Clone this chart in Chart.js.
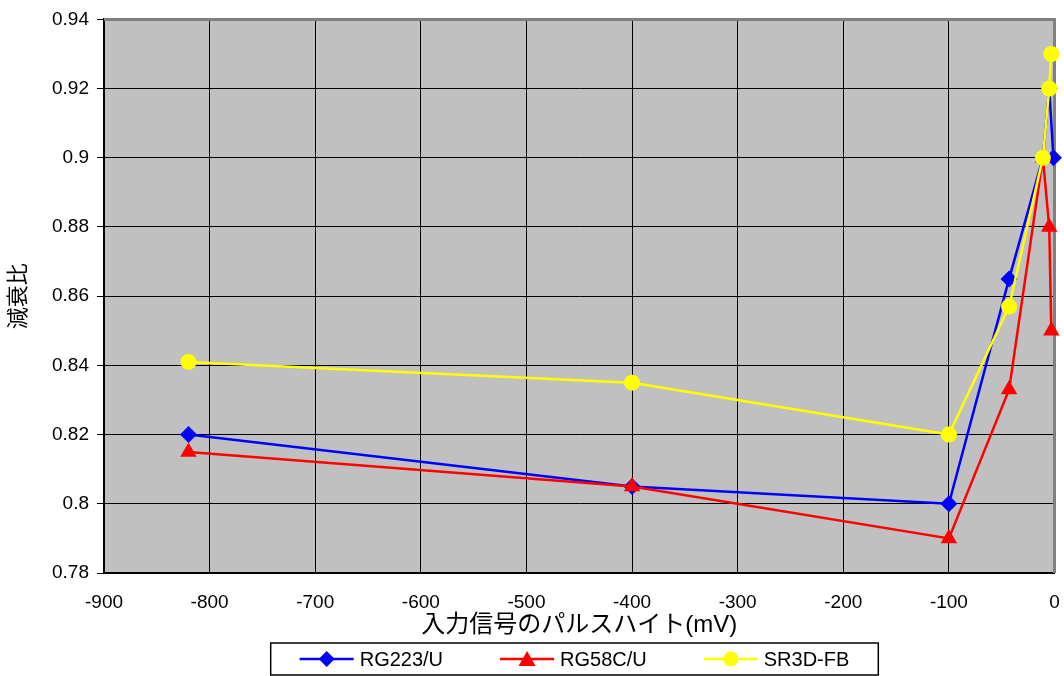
<!DOCTYPE html>
<html>
<head>
<meta charset="utf-8">
<script src="https://cdn.jsdelivr.net/npm/chart.js@4.4.0/dist/chart.umd.min.js"></script>
<style>
  html, body { margin: 0; padding: 0; background: #fff; }
</style>
</head>
<body>
<canvas id="myChart" width="1064" height="676"></canvas>
<script>
// データ
const xRG223 = [-820, -400, -100, -43, -11, -5, -1];
const yRG223 = [0.82, 0.805, 0.80, 0.865, 0.90, 0.92, 0.90];
const xRG58 = [-820, -400, -100, -43, -11, -5, -3];
const yRG58 = [0.815, 0.805, 0.79, 0.833, 0.90, 0.88, 0.85];
const xSR3D = [-820, -400, -100, -43, -11, -5, -3];
const ySR3D = [0.841, 0.835, 0.82, 0.857, 0.90, 0.92, 0.93];
const seriesNames = ["RG223/U", "RG58C/U", "SR3D-FB"];
const xTitle = "入力信号のパルスハイト(mV)";
const yTitle = "減衰比";

const FONT = "'Liberation Sans', Arial, 'Noto Sans CJK JP', sans-serif";

const toPoints = (xs, ys) => xs.map((x, i) => ({ x: x, y: ys[i] }));

function drawMarker(g, style, x, y, color) {
  g.fillStyle = color;
  g.beginPath();
  if (style === "rectRot") {
    g.moveTo(x, y - 8); g.lineTo(x + 8, y); g.lineTo(x, y + 8); g.lineTo(x - 8, y);
  } else if (style === "triangle") {
    g.moveTo(x, y - 8); g.lineTo(x + 8.5, y + 7); g.lineTo(x - 8.5, y + 7);
  } else {
    g.arc(x, y, 7.5, 0, Math.PI * 2);
  }
  g.closePath();
  g.fill();
}

// 背景・枠・凡例
const plotBg = {
  id: "plotBg",
  beforeDraw(chart) {
    const { ctx, chartArea: a } = chart;
    ctx.save();
    ctx.fillStyle = "#C0C0C0";
    ctx.fillRect(a.left, a.top, a.right - a.left, a.bottom - a.top);
    ctx.restore();
  },
  beforeDatasetsDraw(chart) {
    const { ctx, chartArea: a } = chart;
    ctx.save();
    ctx.strokeStyle = "#808080";
    ctx.lineWidth = 3;
    ctx.beginPath();
    ctx.moveTo(a.left, a.top);
    ctx.lineTo(a.right, a.top);
    ctx.lineTo(a.right, a.bottom);
    ctx.stroke();
    ctx.restore();
  },
  afterDraw(chart) {
    const ctx = chart.ctx;
    const sets = chart.data.datasets;
    ctx.save();
    ctx.font = "20px " + FONT;
    const lineLen = 54, gapText = 6, gapItem = 57, pad = 29;
    const widths = sets.map(ds => lineLen + gapText + ctx.measureText(ds.label).width);
    const total = widths.reduce((s, w) => s + w, 0) + gapItem * (sets.length - 1);
    const cx = 574.5;
    let x = cx - total / 2;
    const top = 643, h = 32, cy = top + h / 2;
    ctx.fillStyle = "#fff";
    ctx.fillRect(x - pad, top, total + pad * 2, h);
    ctx.strokeStyle = "#000";
    ctx.lineWidth = 1.5;
    ctx.strokeRect(x - pad, top, total + pad * 2, h);
    sets.forEach((ds, i) => {
      ctx.strokeStyle = ds.borderColor;
      ctx.lineWidth = 2.5;
      ctx.beginPath();
      ctx.moveTo(x, cy);
      ctx.lineTo(x + lineLen, cy);
      ctx.stroke();
      drawMarker(ctx, ds.pointStyle, x + lineLen / 2, cy, ds.backgroundColor);
      ctx.fillStyle = "#000";
      ctx.textBaseline = "middle";
      ctx.textAlign = "left";
      ctx.fillText(ds.label, x + lineLen + gapText, cy + 1);
      x += widths[i] + gapItem;
    });
    ctx.restore();
  }
};

const data = {
  datasets: [
    {
      label: seriesNames[0],
      data: toPoints(xRG223, yRG223),
      borderColor: "#0000FF",
      backgroundColor: "#0000FF",
      pointStyle: "rectRot",
      pointRadius: 8.5,
      order: 3,
    },
    {
      label: seriesNames[1],
      data: toPoints(xRG58, yRG58),
      borderColor: "#FF0000",
      backgroundColor: "#FF0000",
      pointStyle: "triangle",
      pointRadius: 9.5,
      order: 2,
    },
    {
      label: seriesNames[2],
      data: toPoints(xSR3D, ySR3D),
      borderColor: "#FFFF00",
      backgroundColor: "#FFFF00",
      pointStyle: "circle",
      pointRadius: 8,
      order: 1,
    },
  ],
};

const config = {
  type: "line",
  data: data,
  plugins: [plotBg],
  options: {
    responsive: false,
    animation: false,
    devicePixelRatio: 1,
    clip: false,
    layout: { padding: { left: 0, right: 6, top: 17, bottom: 36 } },
    elements: {
      line: { borderWidth: 2.5, tension: 0 },
      point: { borderWidth: 0, hoverRadius: 9 },
    },
    plugins: {
      tooltip: { enabled: false },
      legend: { display: false },
    },
    scales: {
      x: {
        type: "linear",
        min: -900,
        max: 0,
        afterFit(scale) {
          scale.height = 67;
          scale.paddingLeft = 0;
          scale.paddingRight = 0;
        },
        ticks: {
          stepSize: 100,
          color: "#000",
          padding: 18,
          maxRotation: 0,
          font: { family: FONT, size: 19 },
        },
        grid: { color: "#000", lineWidth: 1, drawTicks: false },
        border: { color: "#000", width: 2 },
        title: {
          display: true,
          text: xTitle,
          color: "#000",
          font: { family: FONT, size: 24 },
          padding: { top: 6, bottom: 0 },
        },
      },
      y: {
        min: 0.78,
        max: 0.94,
        afterFit(scale) { scale.width = 104; },
        ticks: {
          stepSize: 0.02,
          color: "#000",
          padding: 8,
          font: { family: FONT, size: 19 },
          callback: (v) => String(parseFloat(v.toFixed(2))),
        },
        grid: { color: "#000", lineWidth: 1, tickLength: 7, tickColor: "#000" },
        border: { color: "#000", width: 2 },
        title: {
          display: true,
          text: yTitle,
          color: "#000",
          font: { family: FONT, size: 22 },
          padding: { top: 6, bottom: 0 },
        },
      },
    },
  },
};

const ctx = document.getElementById("myChart").getContext("2d");
const myChart = new Chart(ctx, config);
</script>
</body>
</html>
